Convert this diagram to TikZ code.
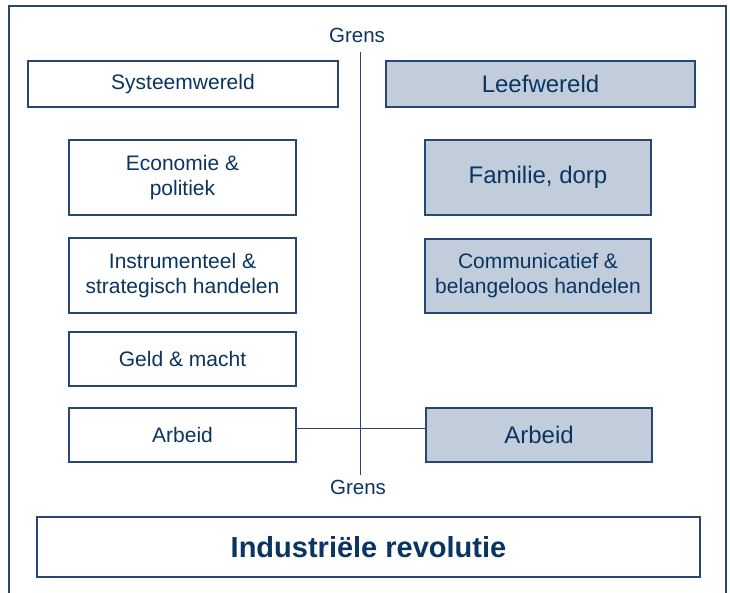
\documentclass[tikz,border=0pt]{standalone}
\usepackage{fontspec}
\setmainfont{Liberation Sans}
\definecolor{inkblue}{RGB}{10, 52, 97}
\definecolor{edgeblue}{RGB}{38, 72, 114}
\definecolor{worldfill}{RGB}{194, 205, 220}
\usetikzlibrary{positioning}

\begin{document}
\begin{tikzpicture}[x=1pt, y=-1pt,
    box/.style={draw=edgeblue, line width=1.1pt, fill=white, text=inkblue, align=center,
      inner sep=0pt, font=\fontsize{21}{25}\selectfont},
    lifebox/.style={box, fill=worldfill, font=\fontsize{24}{28}\selectfont},
    label/.style={text=inkblue, inner sep=0pt, font=\fontsize{20.5}{24}\selectfont},
    border/.style={draw=edgeblue, line width=1pt}]
  \useasboundingbox (0,0) rectangle (730,592);

  % Outer frame
  \draw[edgeblue, line width=1.4pt] (9,600) -- (9,6) -- (726,6) -- (726,600);

  % Boundary
  \node[label] (grensT) at (357,35) {Grens};
  \node[label] (grensB) at (358,487) {Grens};
  \coordinate (gtop) at (360,52);
  \coordinate (gbot) at (360,475);
  \draw[border] (gtop) -- (gbot);

  % System world
  \node[box, minimum width=310, minimum height=46] (sysw) at (183,84) {Systeemwereld};
  \node[box, minimum width=227, minimum height=75] (econ) at (182.5,177.5) {Economie \&\\politiek};
  \node[box, minimum width=227, minimum height=75] (instr) at (182.5,275.5) {Instrumenteel \&\\strategisch handelen};
  \node[box, minimum width=227, minimum height=54] (geld) at (182.5,359) {Geld \& macht};
  \node[box, minimum width=227, minimum height=54] (arbL) at (182.5,435) {Arbeid};

  % Life world
  \node[lifebox, minimum width=309, minimum height=46] (leefw) at (540.5,84) {Leefwereld};
  \node[lifebox, minimum width=226, minimum height=75] (fam) at (538,177.5) {Familie, dorp};
  \node[lifebox, font=\fontsize{21}{25}\selectfont, minimum width=226, minimum height=74] (comm) at (538,276) {Communicatief \&\\belangeloos handelen};
  \node[lifebox, minimum width=226, minimum height=54] (arbR) at (539,435) {Arbeid};

  \draw[border] ([yshift=7pt]arbL.east) -- ([yshift=7pt]arbR.west);

  % Bottom
  \node[box, minimum width=663, minimum height=60, font=\fontsize{29}{34}\selectfont\bfseries] (indus) at (368.5,547) {Industriële revolutie};
\end{tikzpicture}
\end{document}
